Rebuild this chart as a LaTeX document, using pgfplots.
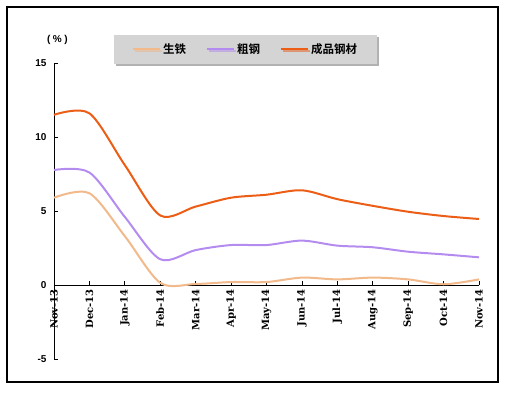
\documentclass[border=0pt]{standalone}
\usepackage{fontspec}
\setmainfont{Liberation Sans}
\newfontfamily\cjk{Noto Sans CJK SC Bold}
\newfontfamily\xfont{DejaVu Serif}
\usepackage{pgfplots}
\pgfplotsset{compat=1.18}
\usetikzlibrary{shadows}
\definecolor{cIron}{HTML}{F2B98A}
\definecolor{cCrude}{HTML}{B48CF0}
\definecolor{cSteel}{HTML}{EC5E16}
\definecolor{legfill}{HTML}{D4D4D4}
\begin{document}
\begin{tikzpicture}
\path[use as bounding box] (-54pt,-33pt) rectangle (456pt,359pt);
\draw[black,line width=1.2pt] (-47pt,-23pt) rectangle (444pt,352pt);
\begin{axis}[
  at={(0pt,74pt)}, anchor=origin,
  scale only axis, width=425pt, height=296pt,
  xmin=0, xmax=12, ymin=-5, ymax=15,
  axis x line*=middle, axis y line*=left,
  hide obscured x ticks=false,
  xtick={0,...,12},
  xticklabels={Nov-13,Dec-13,Jan-14,Feb-14,Mar-14,Apr-14,May-14,Jun-14,Jul-14,Aug-14,Sep-14,Oct-14,Nov-14},
  x tick label style={rotate=90, anchor=east, font=\xfont\bfseries\fontsize{10}{11}\selectfont, inner sep=1pt},
  xticklabel shift=3pt,
  ytick={-5,0,5,10,15},
  y tick label style={font=\bfseries\fontsize{10}{12}\selectfont},
  yticklabel shift=4pt,
  /pgf/number format/assume math mode=true,
  tick align=inside,
  major tick length=4pt,
  tick style={black, line width=0.8pt},
  axis line style={black, line width=0.8pt},
  clip=false,
  legend columns=3,
  legend style={at={(0.451,1.046)}, anchor=center, fill=legfill, draw=none,
    drop shadow={shadow xshift=2pt, shadow yshift=-2pt, fill=black!60},
    font=\cjk\fontsize{11.5}{13}\selectfont, inner xsep=18pt, inner ysep=6.5pt,
    /tikz/every even column/.append style={column sep=18pt}},
  legend image code/.code={\draw[#1, line width=2pt] (0pt,0pt) -- (27pt,0pt);},
  every axis plot/.append style={line width=2pt, smooth, tension=0.5},
]
\addplot[cIron] coordinates {(0,5.9) (1,6.2) (2,3.3) (3,0.15) (4,0.07) (5,0.2) (6,0.2) (7,0.5) (8,0.38) (9,0.5) (10,0.38) (11,0.05) (12,0.38)};
\addlegendentry{生铁}
\addplot[cCrude] coordinates {(0,7.77) (1,7.6) (2,4.6) (3,1.74) (4,2.36) (5,2.7) (6,2.7) (7,3.0) (8,2.66) (9,2.55) (10,2.25) (11,2.07) (12,1.87)};
\addlegendentry{粗钢}
\addplot[cSteel] coordinates {(0,11.5) (1,11.6) (2,8.1) (3,4.7) (4,5.3) (5,5.9) (6,6.1) (7,6.4) (8,5.8) (9,5.35) (10,4.95) (11,4.66) (12,4.46)};
\addlegendentry{成品钢材}
\node[font=\bfseries\fontsize{10}{11}\selectfont, inner sep=0pt] at (rel axis cs:0.008,1.078) {(\hspace{2.5pt}\%\hspace{2.5pt})};
\end{axis}
\end{tikzpicture}
\end{document}
